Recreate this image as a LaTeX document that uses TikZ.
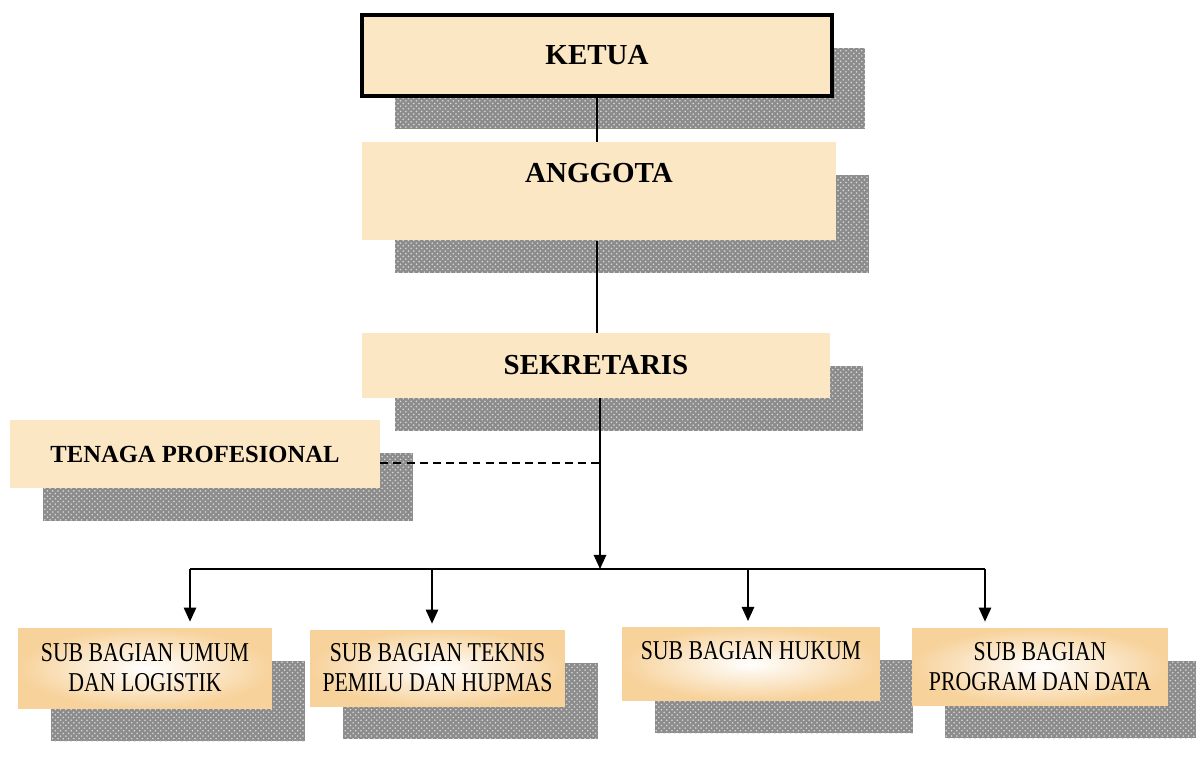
\documentclass[tikz,border=0pt]{standalone}
\usepackage{fontspec}
\setmainfont{Liberation Serif}
\newfontfamily\narrowfont[FakeStretch=0.8]{Liberation Serif}
\usepackage{tikz}
\usetikzlibrary{positioning,shadows,arrows.meta,patterns}
\usepackage{xcolor}
\definecolor{boxtan}{RGB}{252,231,197}
\definecolor{subedge}{RGB}{247,210,155}

\begin{document}
\begin{tikzpicture}[x=0.02cm, y=-0.02cm,
		shadebox/.style={general shadow={fill=gray!90, postaction={pattern=crosshatch dots, pattern color=gray!30}, shadow xshift=0.66cm, shadow yshift=-0.66cm}},
		mainbox/.style={shadebox, fill=boxtan, inner sep=0pt, font=\bfseries\fontsize{16.5}{20}\selectfont},
		subbox/.style={shadebox, inner color=white, outer color=subedge, inner sep=0pt, align=center, font=\narrowfont\fontsize{15.5}{17}\selectfont},
		arr/.style={-{Triangle[width=7pt,length=8pt]}, line width=1pt}]
	\useasboundingbox (0,0) rectangle (1196,765);
	\node [mainbox, draw=black, line width=2pt, minimum width=9.4cm, minimum height=1.62cm] (ketua) at (597,55.5) {KETUA};
	\node [mainbox, anchor=north, minimum width=9.48cm, text height=0.8cm, text depth=1.16cm] (anggota) at (599,142) {ANGGOTA};
	\node [mainbox, minimum width=9.36cm, minimum height=1.3cm] (sekretaris) at (596,365.5) {SEKRETARIS};
	\node [mainbox, minimum width=7.4cm, minimum height=1.36cm, font=\bfseries\fontsize{14}{17}\selectfont] (tenaga) at (195,454) {TENAGA PROFESIONAL};
	\node [subbox, minimum width=5.08cm, minimum height=1.6cm] (umum) at (145,668) {SUB BAGIAN UMUM\\DAN LOGISTIK};
	\node [subbox, minimum width=5.1cm, minimum height=1.52cm] (teknis) at (437.5,668) {SUB BAGIAN TEKNIS\\PEMILU DAN HUPMAS};
	\node [subbox, anchor=north, minimum width=5.16cm, text height=0.64cm, text depth=0.82cm] (hukum) at (751,627) {SUB BAGIAN HUKUM};
	\node [subbox, minimum width=5.12cm, minimum height=1.54cm] (program) at (1040,666.5) {SUB BAGIAN\\PROGRAM DAN DATA};
	\coordinate (hub) at (600,569);
	\coordinate (b1) at (190,569);
	\coordinate (b2) at (432,569);
	\coordinate (b3) at (748,569);
	\coordinate (b4) at (985,569);
	\draw [line width=1pt] (ketua.south) -- (ketua.south |- anggota.north);
	\draw [line width=1pt] (ketua.south |- anggota.south) -- (ketua.south |- sekretaris.north);
	\draw [arr] (sekretaris.south -| hub) -- (hub);
	\draw [line width=1pt, dash pattern=on 4.5pt off 3pt] ([yshift=-0.18cm]tenaga.east) -- ([yshift=-0.18cm]tenaga.east -| hub);
	\draw [line width=1pt] (b1) -- (b4);
	\draw [arr, shorten >=0.12cm] (b1) -- (b1 |- umum.north);
	\draw [arr, shorten >=0.12cm] (b2) -- (b2 |- teknis.north);
	\draw [arr, shorten >=0.12cm] (b3) -- (b3 |- hukum.north);
	\draw [arr, shorten >=0.12cm] (b4) -- (b4 |- program.north);
\end{tikzpicture}
\end{document}
